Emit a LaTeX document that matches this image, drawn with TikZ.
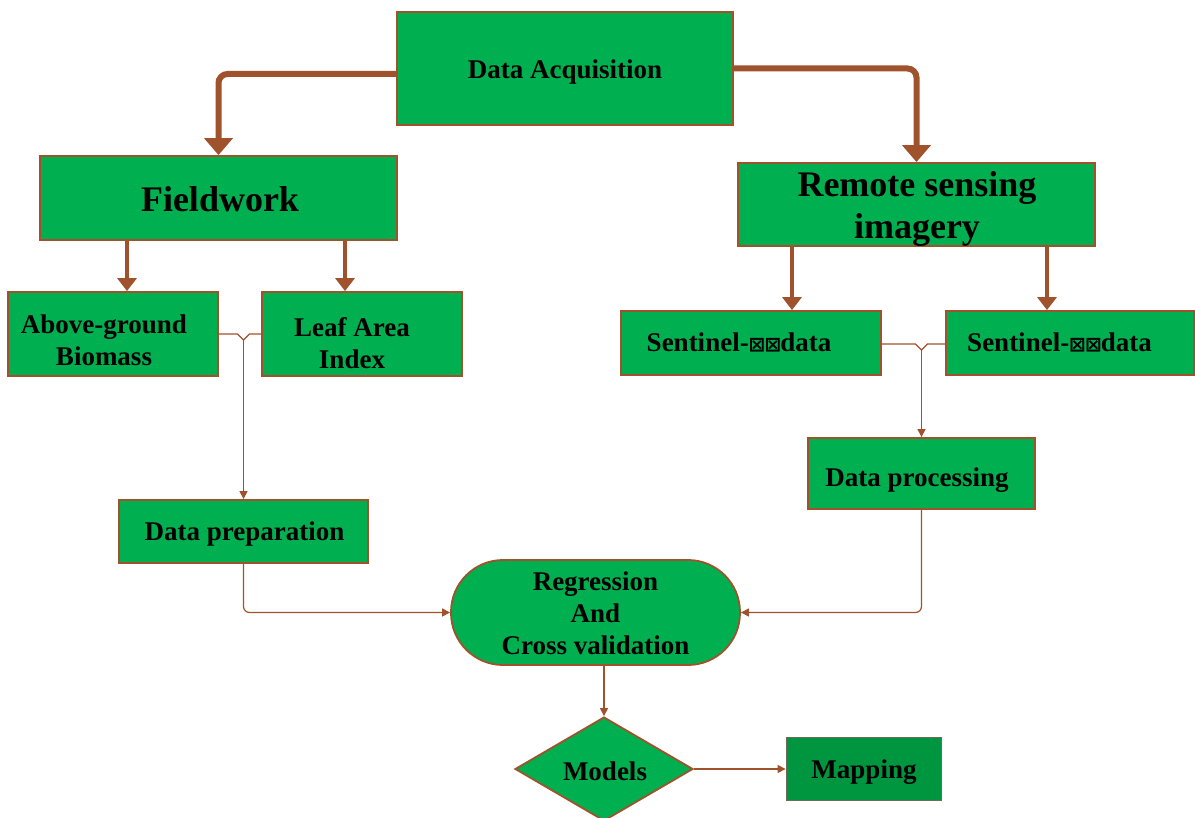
\documentclass[tikz,border=0pt]{standalone}
\usepackage{fontspec}
\setmainfont{Liberation Serif}
\newfontfamily\symfont{DejaVu Sans}
\usetikzlibrary{shapes.geometric,arrows.meta}
\definecolor{bgreen}{HTML}{00B050}
\definecolor{dgreen}{HTML}{00953F}
\definecolor{brn}{HTML}{A0522D}
\definecolor{gbord}{HTML}{6B6B5B}
\newcommand{\tofu}{{\symfont\fontsize{20}{20}\selectfont ⊠}}
\tikzset{
  x=1pt,y=-1pt,
  box/.style={draw=brn,fill=bgreen,line width=1.8pt,inner sep=0pt},
  txt/.style={font=\bfseries\fontsize{27}{32}\selectfont,align=center,inner sep=0pt},
  bigtxt/.style={font=\bfseries\fontsize{36}{42}\selectfont,align=center,inner sep=0pt},
  thickarr/.style={draw=brn,line width=6pt,rounded corners=9pt,-{Triangle[width=28pt,length=17pt]}},
  medarr/.style={draw=brn,line width=4pt,-{Triangle[width=19pt,length=13pt]}},
  thinline/.style={draw=brn,line width=1.2pt},
  thinarr/.style={draw=brn,line width=1.2pt,rounded corners=6pt,-{Triangle[width=8pt,length=8pt]}}
}
\begin{document}
\begin{tikzpicture}
\useasboundingbox (0,0) rectangle (1195,818);
% boxes
\node[box,minimum width=336,minimum height=113] (acq) at (565,68.5) {};
\node[txt] (acqt) at (565,72) {Data Acquisition};
\node[box,minimum width=357,minimum height=84] (field) at (218.5,198) {};
\node[bigtxt] (fieldt) at (220,199) {Fieldwork};
\node[box,minimum width=357,minimum height=83] (rs) at (916.5,204.5) {};
\node[bigtxt] (rst) at (917,209) {Remote sensing\\imagery};
\node[box,minimum width=210,minimum height=84] (abg) at (113,334) {};
\node[txt] (abgt) at (104,340) {Above-ground\\Biomass};
\node[box,minimum width=200,minimum height=84] (leaf) at (362,334) {};
\node[txt] (leaft) at (352,343) {Leaf Area\\Index};
\node[box,minimum width=260,minimum height=64] (s1) at (751,343) {};
\node[txt] (s1t) at (739,342) {Sentinel-\tofu\kern-1pt\tofu\kern-1pt data};
\node[box,minimum width=248,minimum height=64] (s2) at (1070,343) {};
\node[txt] (s2t) at (1059.5,342) {Sentinel-\tofu\kern-1pt\tofu\kern-1pt data};
\node[box,minimum width=227,minimum height=71] (dp) at (921.5,473.5) {};
\node[txt] (dpt) at (917,480) {Data processing};
\node[box,minimum width=249,minimum height=63] (prep) at (243.5,531.5) {};
\node[txt] (prept) at (244.5,534) {Data preparation};
\node[box,rounded corners=52pt,minimum width=289,minimum height=105] (reg) at (595.5,612.5) {};
\node[txt] (regt) at (595.5,613) {Regression\\And\\Cross validation};
\node[box,diamond,minimum width=178,minimum height=104] (models) at (604,769) {};
\node[txt] (modelst) at (605,771) {Models};
\node[draw=gbord,fill=dgreen,line width=1.8pt,minimum width=155,minimum height=63,inner sep=0pt] (map) at (864,769) {};
\node[txt] (mapt) at (864,772) {Mapping};
% thick arrows
\draw[thickarr] ([yshift=-5.5pt]acq.west) -| (field.north);
\draw[thickarr] (acq.east) -| (rs.north);
% medium arrows
\draw[medarr] (field.south -| 127,0) -- (abg.north -| 127,0);
\draw[medarr] (field.south -| 345,0) -- (leaf.north -| 345,0);
\draw[medarr] (rs.south -| 792,0) -- (s1.north -| 792,0);
\draw[medarr] (rs.south -| 1047,0) -- (s2.north -| 1047,0);
% merges
\coordinate (j1) at (243.5,340);
\draw[thinline] (abg.east) -- (237.5,334) -- (j1) -- (249.5,334) -- (leaf.west);
\draw[thinarr] (j1) -- (prep.north);
\coordinate (j2) at (921.5,350);
\draw[thinline] ([yshift=-1pt]s1.east) -- (915.5,344) -- (j2) -- (927.5,344) -- ([yshift=-1pt]s2.west);
\draw[thinarr] (j2) -- (dp.north);
% to regression
\draw[thinarr] (prep.south) |- (reg.west);
\draw[thinarr] (dp.south) |- (reg.east);
\draw[thinarr] (reg.south -| models.north) -- (models.north);
\draw[thinarr] (models.east) -- (map.west);
\end{tikzpicture}
\end{document}
